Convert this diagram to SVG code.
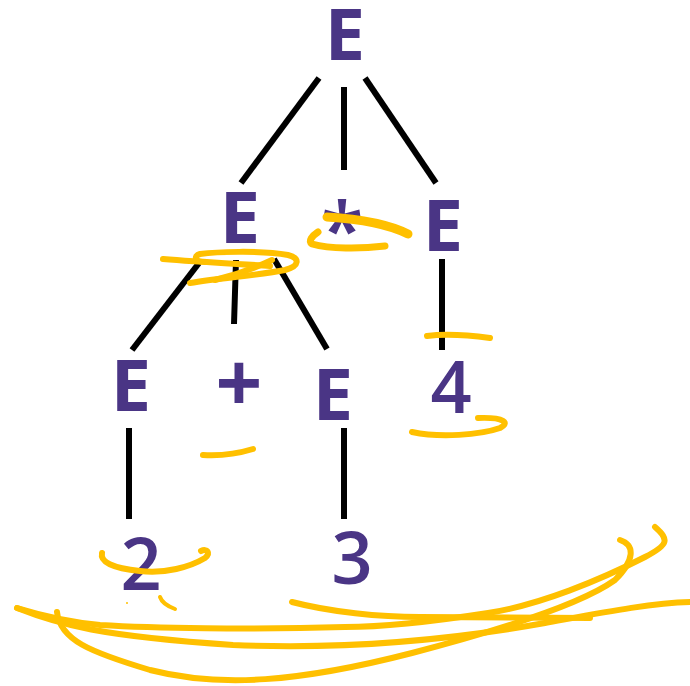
<svg xmlns="http://www.w3.org/2000/svg" width="690" height="686" viewBox="0 0 690 686">
<style>
.t{font-family:"Open Sans","Liberation Sans",sans-serif;font-size:72px;fill:#4a3585;text-anchor:middle;font-weight:700}
.d{font-weight:600}
.e{stroke:#000;stroke-width:6;fill:none}
.y{stroke:#ffc000;stroke-width:6;fill:none;stroke-linecap:round;stroke-linejoin:round}
</style>
<rect width="690" height="686" fill="#fff"/>
<g id="edges">
<line class="e" x1="319" y1="78" x2="241" y2="183"/>
<line class="e" x1="344" y1="87" x2="344" y2="170"/>
<line class="e" x1="365" y1="78" x2="436" y2="183"/>
<line class="e" x1="199" y1="263" x2="132" y2="350"/>
<line class="e" x1="236" y1="260" x2="234" y2="324"/>
<line class="e" x1="274" y1="259" x2="327" y2="349"/>
<line class="e" x1="442" y1="259" x2="442" y2="350"/>
<line class="e" x1="129" y1="428" x2="129" y2="519"/>
<line class="e" x1="344" y1="428" x2="344" y2="519"/>
</g>
<g id="n-root"><text class="t" x="345" y="60">E</text></g>
<g id="n-e1"><text class="t" x="240" y="243">E</text></g>
<g id="n-star"><text class="t d" x="342" y="258" style="font-size:78px">*</text></g>
<g id="n-e2"><text class="t" x="443" y="251">E</text></g>
<g id="n-e3"><text class="t" x="131" y="411">E</text></g>
<g id="n-plus"><text class="t" x="239" y="412" style="font-size:82px">+</text></g>
<g id="n-e4"><text class="t" x="333" y="420">E</text></g>
<g id="n-4"><text class="t d" x="451" y="413">4</text></g>
<g id="n-2"><text class="t d" x="141" y="590">2</text></g>
<g id="n-3"><text class="t d" x="352" y="584">3</text></g>
<g id="scribbles">
<path class="y" d="M163,259 C200,262 240,264 270,266"/>
<path class="y" d="M190,283 C220,278 260,275 285,270 C300,266 300,258 288,255 C260,250 215,252 200,254 C193,256 195,262 205,262"/>
<path class="y" d="M272,260 C255,268 235,275 215,280"/>
<path class="y" d="M327,217 C360,219 390,225 408,234" style="stroke-width:9"/>
<path class="y" d="M385,246 C360,249 330,249 312,244 C308,241 312,236 318,232" style="stroke-width:7"/>
<path class="y" d="M427,336 C450,333 475,336 490,338"/>
<path class="y" d="M412,432 C440,438 480,435 500,428 C510,423 505,417 478,418"/>
<path class="y" d="M203,455 C220,456 240,453 253,449"/>
<path class="y" d="M102,553 C100,562 112,568 140,571 C165,574 190,567 205,558 C211,553 207,548 201,551"/>
<path class="y" d="M160,597 C162,603 167,606 175,609" style="stroke-width:4"/>
<circle cx="127" cy="603" r="1" fill="#ffc000"/>
<path class="y" d="M57,612 C60,640 90,652 150,670 C220,688 300,682 412,653 C500,630 580,605 615,580 C635,560 635,545 620,540"/>
<path class="y" d="M17,608 C60,625 100,636 233,645 C350,650 450,640 545,623 C600,613 650,603 690,602"/>
<path class="y" d="M655,527 C670,540 668,545 645,557 C600,580 540,605 488,613 C430,622 380,627 345,627 C250,630 150,628 100,625 C70,622 40,615 17,608"/>
<path class="y" d="M292,602 C330,612 380,617 420,617 C500,617 560,618 590,618"/>
</g>
</svg>
